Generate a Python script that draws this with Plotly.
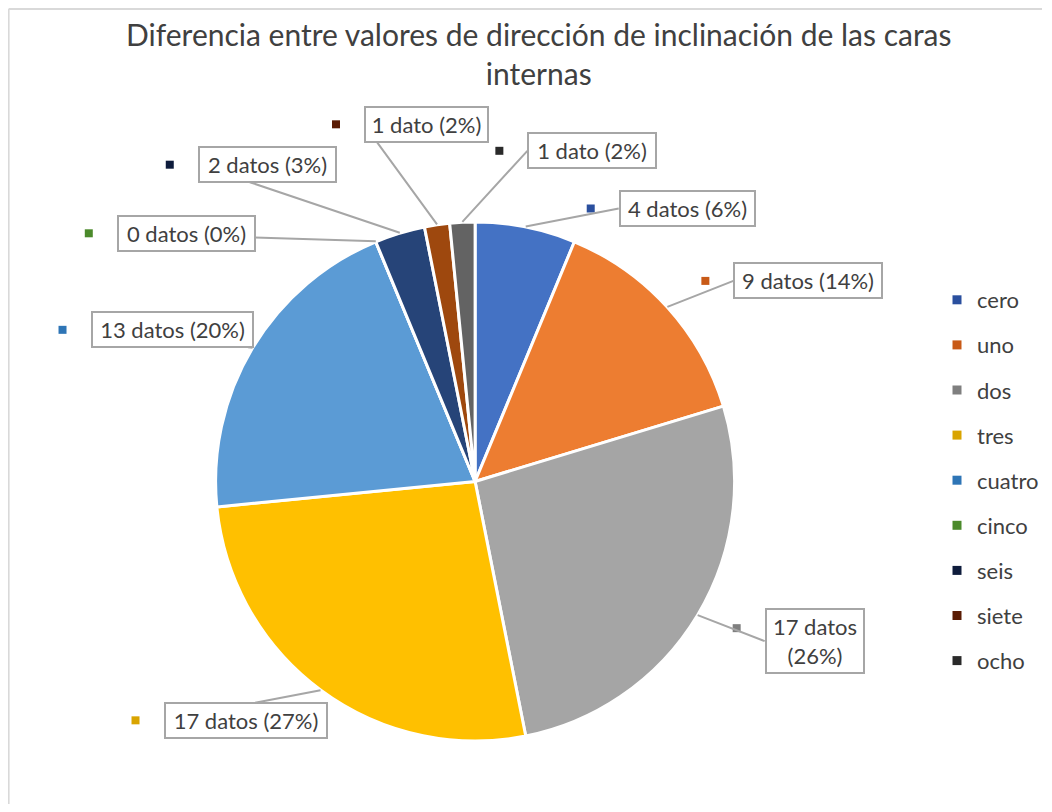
import math
import plotly.graph_objects as go

# ---------------- data ----------------
categories = ["cero", "uno", "dos", "tres", "cuatro", "cinco", "seis", "siete", "ocho"]
counts = [4, 9, 17, 17, 13, 0, 2, 1, 1]
percent_labels = [6, 14, 26, 27, 20, 0, 3, 2, 2]  # as printed on the chart
title_text = "Diferencia entre valores de dirección de inclinación de las caras<br>internas"

# ---------------- styles ----------------
slice_colors = ["#4472C4", "#ED7D31", "#A5A5A5", "#FFC000", "#5B9BD5",
                "#70AD47", "#264478", "#9E480E", "#636363"]
key_colors = ["#2A4F9E", "#C85A17", "#7F7F7F", "#D9A400", "#2E75B6",
              "#4B8A2B", "#0E1C3C", "#5A1C04", "#2A2A2A"]

# page body has an 8px margin, so the figure is 16px smaller than the window
W, H = 1036, 796
CX, CY, R = 468, 473.5, 260          # pie centre / radius in figure px
FONT = "Lato"
TEXT = "#404040"
LEADER = "#A6A6A6"

# callout style per slice: (dx to box left, dy to box centre, box outer width, wrap, key dy)
label_style = [
    (93, -18, 137, False, 0),
    (66, -26, 150, False, 0),
    (67, 26, 100, True, -13),
    (-157, 30, 164, False, 0),
    (-162, -18, 163, False, 0),
    (-259, -8, 139, False, 0),
    (-202, -68, 139, False, 0),
    (-73, -100, 125, False, 0),
    (65, -71, 130, False, 0),
]
BW, PAD = 2, 3
KEY_GAP, KEY_HALF = 28, 4

fig = go.Figure()

fig.add_trace(go.Pie(
    labels=categories,
    values=counts,
    sort=False,
    direction="clockwise",
    rotation=0,
    marker=dict(colors=slice_colors, line=dict(color="white", width=3)),
    textinfo="none",
    hoverinfo="label+value+percent",
    showlegend=False,
    domain=dict(x=[(CX - R) / W, (CX + R) / W], y=[1 - (CY + R) / H, 1 - (CY - R) / H]),
))

# legend via marker-only traces
for cat, col in zip(categories, key_colors):
    fig.add_trace(go.Scatter(
        x=[None], y=[None], mode="markers", name=cat, legendgroup=cat,
        marker=dict(symbol="square", size=9, color=col),
        hoverinfo="skip",
    ))

annotations = []
shapes = []
total = sum(counts)
cum = 0
for i, (cat, n) in enumerate(zip(categories, counts)):
    mid = (cum + n / 2) / total * 2 * math.pi
    cum += n
    tx = CX + R * math.sin(mid)
    ty = CY - R * math.cos(mid)
    px, py = tx / W, 1 - ty / H
    dx, dy, bw_outer, wrap, kdy = label_style[i]
    word = "dato" if n == 1 else "datos"
    sep = "<br>" if wrap else " "
    txt = f"{n} {word}{sep}({percent_labels[i]}%)"
    annotations.append(dict(
        x=px, y=py, xref="paper", yref="paper",
        text=txt, showarrow=True, arrowhead=0, arrowwidth=2, arrowcolor=LEADER,
        ax=dx, ay=dy, xanchor="left", yanchor="middle", standoff=0,
        width=bw_outer - 2 * (BW + PAD), align="center",
        bordercolor=LEADER, borderwidth=BW, borderpad=PAD, bgcolor="white",
        font=dict(family=FONT, size=22, color=TEXT),
    ))
    kx = dx - KEY_GAP
    ky = -(dy + kdy)
    shapes.append(dict(
        type="rect", xref="paper", yref="paper", xsizemode="pixel", ysizemode="pixel",
        xanchor=px, yanchor=py,
        x0=kx - KEY_HALF, x1=kx + KEY_HALF, y0=ky - KEY_HALF, y1=ky + KEY_HALF,
        fillcolor=key_colors[i], line=dict(width=0),
    ))

# title
annotations.append(dict(
    x=532 / W, y=1 - 46 / H, xref="paper", yref="paper",
    xanchor="center", yanchor="middle", showarrow=False, align="center",
    text=title_text, font=dict(family=FONT, size=30, color="#404040"),
))

# chart frame (top and left edges visible)
shapes.append(dict(type="line", xref="paper", yref="paper", x0=0.6 / W, x1=1.0,
                   y0=1 - 1 / H, y1=1 - 1 / H, line=dict(color="#D9D9D9", width=2)))
shapes.append(dict(type="line", xref="paper", yref="paper", x0=0.6 / W, x1=0.6 / W,
                   y0=0, y1=1 - 1 / H, line=dict(color="#D9D9D9", width=2)))

fig.update_layout(
    width=W, height=H,
    margin=dict(l=0, r=0, t=0, b=0),
    paper_bgcolor="white", plot_bgcolor="white",
    xaxis=dict(visible=False), yaxis=dict(visible=False),
    legend=dict(x=931 / W, y=1 - 271 / H, xanchor="left", yanchor="top",
                traceorder="grouped", tracegroupgap=13.5,
                font=dict(family=FONT, size=22, color=TEXT),
                bgcolor="rgba(0,0,0,0)"),
    annotations=annotations,
    shapes=shapes,
)

fig.write_html("out.html")
